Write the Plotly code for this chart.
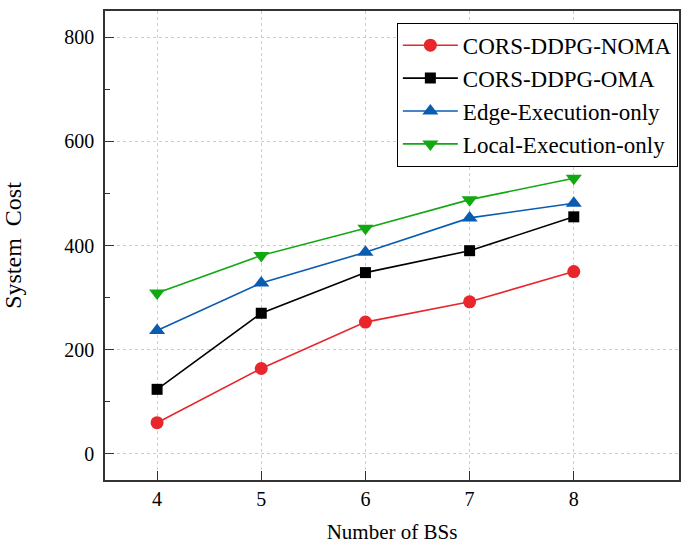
import plotly.graph_objects as go

num_bs = [4, 5, 6, 7, 8]
noma = [60, 164, 253, 292, 350]
oma = [124, 270, 348, 390, 455]
edge = [237, 328, 387, 453, 481]
local = [309, 381, 433, 488, 529]

series = [
    ("CORS-DDPG-NOMA", noma, "#e8262b", "circle", 13),
    ("CORS-DDPG-OMA", oma, "#000000", "square", 11),
    ("Edge-Execution-only", edge, "#0a5cb0", "triangle-up", 14),
    ("Local-Execution-only", local, "#12a812", "triangle-down", 14),
]

fig = go.Figure()
for name, vals, color, sym, size in series:
    fig.add_trace(go.Scatter(
        x=num_bs, y=vals, name=name, mode="lines+markers",
        line=dict(color=color, width=1.6),
        marker=dict(symbol=sym, size=size, color=color, line=dict(width=0)),
    ))

font_family = "Liberation Serif, Times New Roman, serif"
fig.update_layout(
    width=682, height=546,
    margin=dict(l=105, r=1, t=11, b=66),
    paper_bgcolor="white", plot_bgcolor="white",
    font=dict(family=font_family, size=20, color="black"),
    showlegend=True,
    legend=dict(
        x=0.998, y=0.975, xanchor="right", yanchor="top",
        bgcolor="white", bordercolor="black", borderwidth=1,
        font=dict(size=23, family=font_family),
        itemwidth=55, tracegroupgap=0,
    ),
)
fig.update_xaxes(
    range=[3.5, 9.01], tickvals=num_bs,
    ticks="inside", ticklen=9, tickwidth=1.2, tickcolor="#333",
    showline=True, linecolor="#333", linewidth=1.5, mirror=True,
    showgrid=True, gridcolor="#cccccc", griddash="dot", gridwidth=1,
    zeroline=False,
    title=dict(text="Number of BSs", font=dict(size=21), standoff=16),
    tickfont=dict(size=20),
)
fig.update_yaxes(
    range=[-50, 850], tickvals=[0, 200, 400, 600, 800],
    ticks="inside", ticklen=9, tickwidth=1.2, tickcolor="#333",
    minor=dict(tickvals=[100, 300, 500, 700], ticks="inside", ticklen=5, tickcolor="#333", showgrid=False),
    showline=True, linecolor="#333", linewidth=1.5, mirror=True,
    showgrid=True, gridcolor="#cccccc", griddash="dot", gridwidth=1,
    zeroline=False,
    title=dict(text="System  Cost", font=dict(size=24), standoff=36),
    tickfont=dict(size=20), ticklabelstandoff=5,
)

fig.write_html("out.html")
